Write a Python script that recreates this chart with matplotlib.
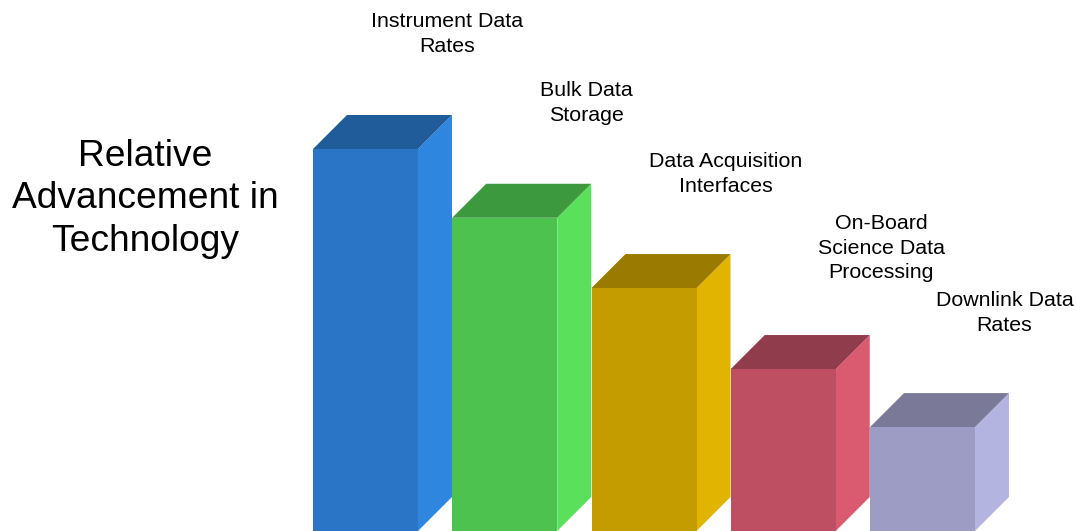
import matplotlib
matplotlib.use("Agg")
import matplotlib.pyplot as plt
from matplotlib.patches import Polygon

plt.rcParams['font.family'] = ['Liberation Sans', 'DejaVu Sans']

# ---- data ----
categories = ["Instrument Data\nRates", "Bulk Data\nStorage", "Data Acquisition\nInterfaces",
              "On-Board\nScience Data\nProcessing", "Downlink Data\nRates"]
values = [100, 82, 63.6, 42.4, 27.2]
title = "Relative\nAdvancement in\nTechnology"

# ---- style ----
front_colors = ["#2A75C6", "#4EC24E", "#C49C00", "#BE4F62", "#9C9CC4"]
side_colors = ["#2E86DE", "#5BE05B", "#E0B400", "#DA5B6F", "#B4B4E0"]
top_colors = ["#215C9A", "#3D993D", "#9A7B00", "#913C4C", "#7A7A98"]
label_dx_px = [82, 82, 82, 98, 82]
label_dy_px = [115, 115, 114, 121, 114]

W, H = 1076, 531
fig = plt.figure(figsize=(W / 100, H / 100), dpi=100)
ax = fig.add_axes([0, 0, 1, 1])
px_per_x = 139.25
px_per_y = 3.82
ax.set_xlim(-365.5 / px_per_x, (W - 365.5) / px_per_x)
ax.set_ylim(0, H / px_per_y)
ax.axis('off')

bw = 105 / px_per_x
dx = 34 / px_per_x
dy = 34 / px_per_y

for i, v in enumerate(values):
    xl, xr = i - bw / 2, i + bw / 2
    side = Polygon([(xr, 0), (xr + dx, dy), (xr + dx, v + dy), (xr, v)],
                   closed=True, facecolor=side_colors[i], edgecolor='none')
    top = Polygon([(xl, v), (xl + dx, v + dy), (xr + dx, v + dy), (xr, v)],
                  closed=True, facecolor=top_colors[i], edgecolor='none')
    ax.add_patch(side)
    ax.add_patch(top)
    ax.bar(i, v, width=bw, color=front_colors[i], edgecolor='none', zorder=2)
    ax.annotate(categories[i], xy=(i, v), xytext=(label_dx_px[i], label_dy_px[i]),
                textcoords='offset pixels', ha='center', va='center',
                fontsize=15.4, linespacing=1.39, color='black')

fig.text(145 / W, 1 - 199 / H, title, ha='center', va='center', fontsize=26.7,
         linespacing=1.26, color='black')

fig.savefig("out.png", dpi=100)
